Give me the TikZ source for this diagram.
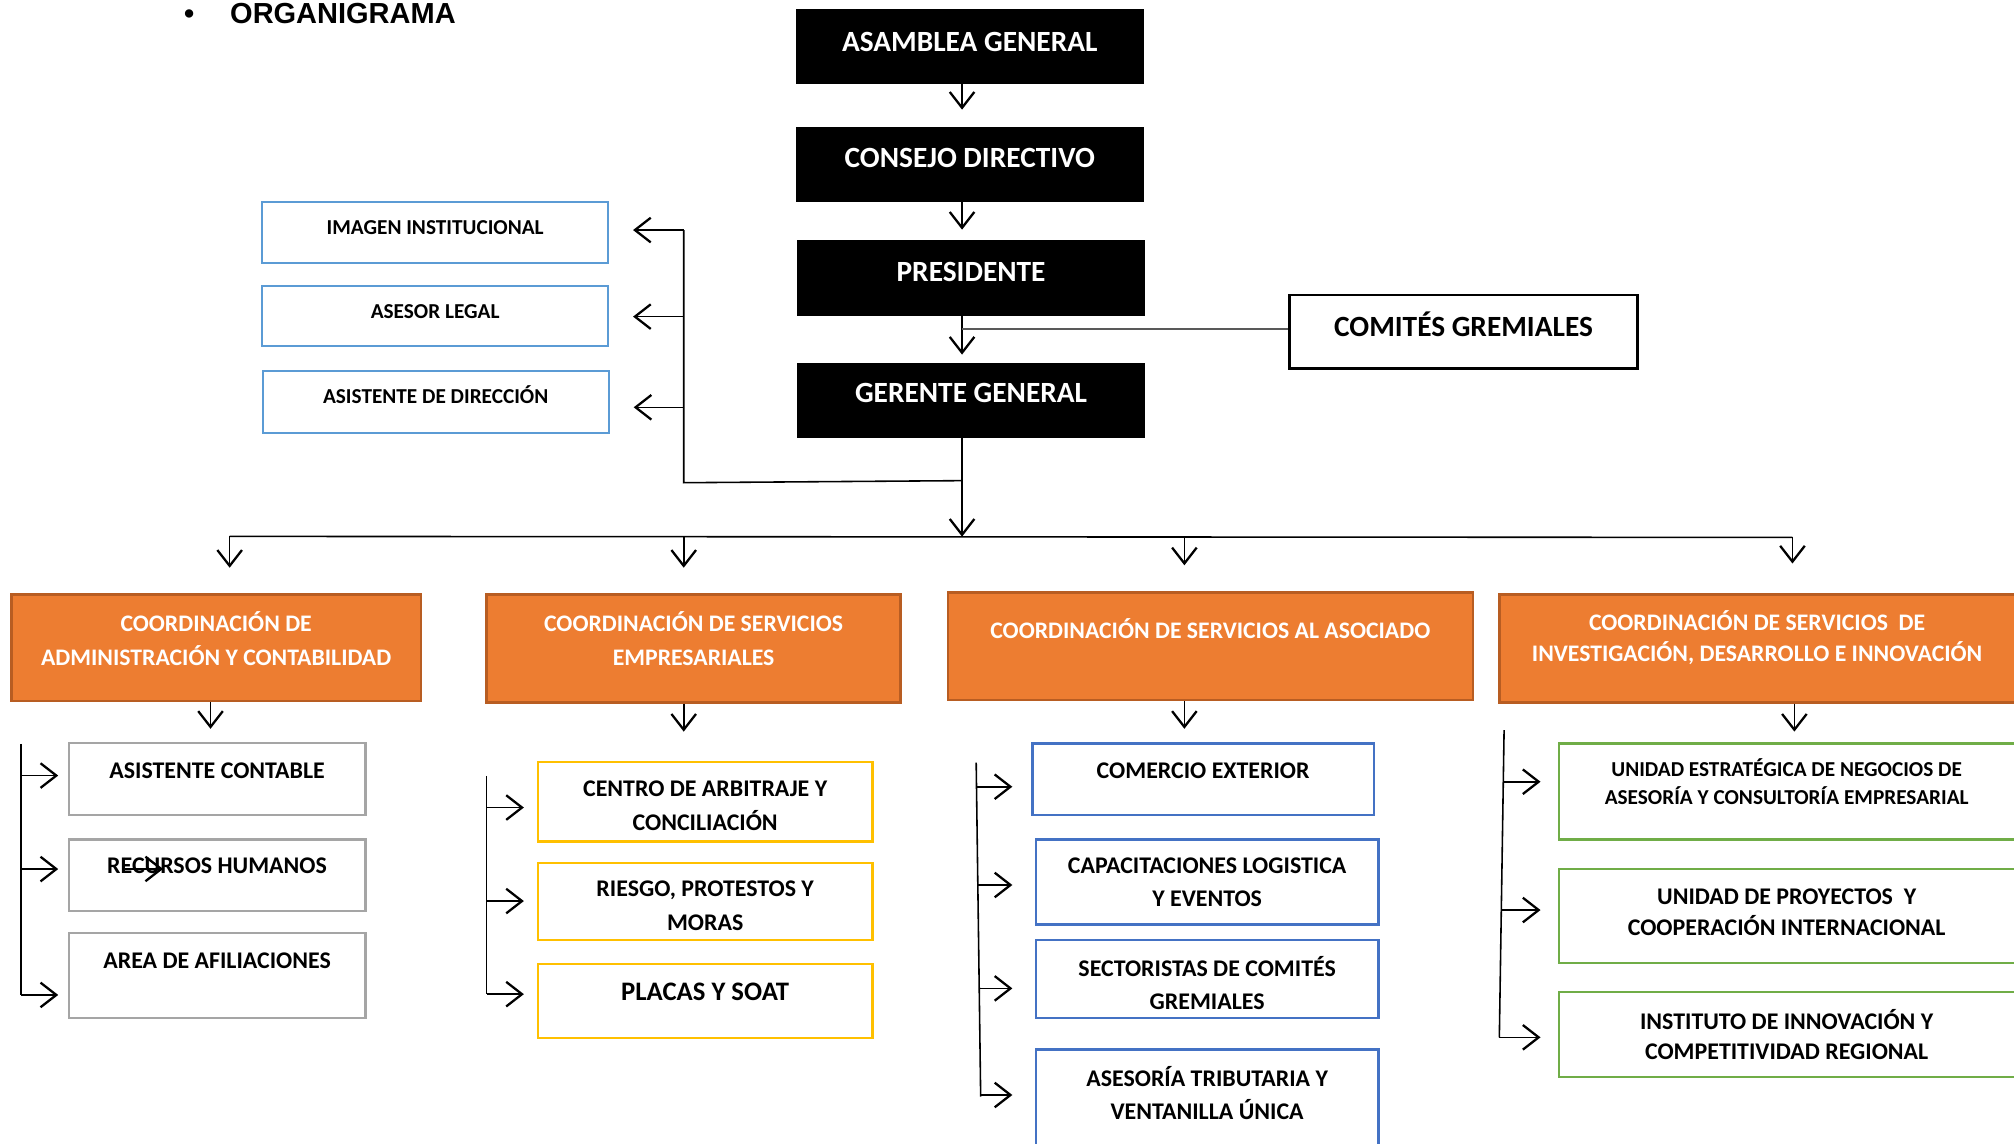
\documentclass[tikz,border=0pt]{standalone}
\usepackage{fontspec}
\setmainfont{Carlito}
\newfontfamily\titlefont{Liberation Sans}
\usetikzlibrary{arrows.meta, fit}

\definecolor{orgorange}{HTML}{ED7D31}
\definecolor{orgorangeline}{HTML}{B85D22}
\definecolor{orglightblue}{HTML}{5B9BD5}
\definecolor{orgblue}{HTML}{4472C4}
\definecolor{orgyellow}{HTML}{FFC000}
\definecolor{orggreen}{HTML}{70AD47}
\definecolor{orggray}{HTML}{A5A5A5}
\definecolor{orgline}{HTML}{595959}

\tikzset{
  headbox/.style={fill=black, draw=black, inner sep=0pt},
  unitbox/.style={draw=#1, line width=1.3pt, inner sep=0pt},
  coordbox/.style={fill=orgorange, draw=orgorangeline, line width=1.5pt, inner sep=0pt},
  oneline/.style={text height=#1, text depth=0pt},
  headtxt/.style={text=white, inner sep=0pt, oneline=10.75pt, font=\bfseries\fontsize{16.7}{20}\selectfont},
  sidetxt/.style={inner sep=0pt, oneline=7.8pt, font=\bfseries\fontsize{12.1}{15}\selectfont},
  coordtxt/.style={text=white, inner sep=0pt, align=center, font=\bfseries\fontsize{13.5}{19.4}\selectfont},
  unittxt/.style={inner sep=0pt, align=center, font=\bfseries\fontsize{13.6}{19.1}\selectfont},
  wire/.style={line width=0.9pt},
  conn/.style={line width=0.9pt, -{Straight Barb[length=9pt, width=14pt, line width=1.3pt]}},
}

\begin{document}
\begin{tikzpicture}[x=0.7309pt, y=-0.7309pt]
\useasboundingbox[fill=white] (0,0) rectangle (1568,890);
\clip (0,0) rectangle (1568,890);

% title
\node[anchor=base west, inner sep=0pt, font=\titlefont\bfseries\fontsize{16.5}{20}\selectfont] (title) at (143,18) {\textbullet\hspace{20.5pt}ORGANIGRAMA};

% top of the chart
\node[headbox, fit={(620,7.3) (890,64.9)}] (asamblea) {};
\node[headbox, fit={(620,98.9) (890,156.5)}] (consejo) {};
\node[headbox, fit={(621,187.4) (891,245.3)}] (presidente) {};
\node[headbox, fit={(621,282.9) (891,340.8)}] (gerente) {};
\node[headtxt] (asamblea-t) at (755,32.4) {ASAMBLEA GENERAL};
\node[headtxt] (consejo-t) at (755,123.3) {CONSEJO DIRECTIVO};
\node[headtxt] (presidente-t) at (756,211.5) {PRESIDENTE};
\node[headtxt] (gerente-t) at (756,306.2) {GERENTE GENERAL};

\node[draw=black, line width=1.6pt, inner sep=0pt, fit={(1004.2,229.7) (1274.6,286.8)}] (comites) {};
\node[headtxt, text=black] (comites-t) at (1139.4,254.3) {COMITÉS GREMIALES};

\coordinate (spine) at (749,0);
\draw[conn, shorten >=9.7pt] (asamblea.south -| spine) -- (consejo.north -| spine);
\draw[conn, shorten >=6.1pt] (consejo.south -| spine) -- (presidente.north -| spine);
\draw[conn, shorten >=4.8pt] (presidente.south -| spine) -- (gerente.north -| spine);
\coordinate (pc) at (749,256.2);
\draw[wire, orgline] (pc) -- (pc -| comites.west);

% staff
\node[unitbox=orglightblue, fit={(204,157) (473.5,204.5)}] (imagen) {};
\node[unitbox=orglightblue, fit={(204,222.4) (473.5,269.4)}] (asesor) {};
\node[unitbox=orglightblue, fit={(204.5,288.9) (474,336.9)}] (asisdir) {};
\node[sidetxt] (imagen-t) at (338.8,177.3) {IMAGEN INSTITUCIONAL};
\node[sidetxt] (asesor-t) at (338.8,242.7) {ASESOR LEGAL};
\node[sidetxt] (asisdir-t) at (339.2,308.9) {ASISTENTE DE DIRECCIÓN};

\coordinate (staffjoin) at (749,374.2);
\coordinate (staffbot) at (532.3,375.8);
\coordinate (staff1) at (532.3,179.1);
\coordinate (staff2) at (532.3,246.5);
\coordinate (staff3) at (532.3,317.1);
\draw[wire] (staffjoin) -- (staffbot) -- (staff1);
\draw[conn, shorten >=13.5pt] (staff1) -- (staff1 -| imagen.east);
\draw[conn, shorten >=13.5pt] (staff2) -- (staff2 -| asesor.east);
\draw[conn, shorten >=13.5pt] (staff3) -- (staff3 -| asisdir.east);

% coordinations
\coordinate (busl) at (178.8,417.6);
\coordinate (busr) at (1395.5,418.4);
\coordinate (busmid) at (749,417.8);
\draw[conn] (gerente.south -| spine) -- (busmid);
\draw[wire] (busl) -- (busr);

\node[coordbox, fit={(8.9,463) (327.7,545.7)}] (cadm) {};
\node[coordbox, fit={(378.9,463) (701.1,546.7)}] (cemp) {};
\node[coordbox, fit={(738,461.1) (1146.7,545)}] (caso) {};
\node[coordbox, fit={(1167.4,463) (1569,546.7)}] (cinv) {};
\node[coordtxt] (cadm-t) at (168.3,497) {COORDINACIÓN DE\\ADMINISTRACIÓN Y CONTABILIDAD};
\node[coordtxt] (cemp-t) at (540,497) {COORDINACIÓN DE SERVICIOS\\EMPRESARIALES};
\node[coordtxt, oneline=8.7pt] (caso-t) at (942.3,491.4) {COORDINACIÓN DE SERVICIOS AL ASOCIADO};
\node[coordtxt, font=\bfseries\fontsize{13.5}{17.5}\selectfont] (cinv-t) at (1368,496.4) {COORDINACIÓN DE SERVICIOS\ \ DE\\INVESTIGACIÓN, DESARROLLO E INNOVACIÓN};

\coordinate (bus2) at (532.3,417.9);
\coordinate (bus3) at (922.1,418.1);
\draw[conn, shorten >=14.6pt] (busl) -- (busl |- cadm.north);
\draw[conn, shorten >=14.6pt] (bus2) -- (bus2 |- cemp.north);
\draw[conn, shorten >=14.6pt] (bus3) -- (bus3 |- caso.north);
\draw[conn, shorten >=17pt] (busr) -- (busr |- cinv.north);

% column heads
\coordinate (c1head) at (163.9,567.4);
\coordinate (c2head) at (532.3,569.6);
\coordinate (c3head) at (922.1,567.4);
\coordinate (c4head) at (1397,569.6);
\draw[conn] (cadm.south -| c1head) -- (c1head);
\draw[conn] (cemp.south -| c2head) -- (c2head);
\draw[conn] (caso.south -| c3head) -- (c3head);
\draw[conn] (cinv.south -| c4head) -- (c4head);

% column 1
\node[unitbox=orggray, fit={(53.6,578.6) (284.5,634.5)}] (asiscont) {};
\node[unitbox=orggray, fit={(53.6,653.6) (284.5,709.1)}] (rrhh) {};
\node[unitbox=orggray, fit={(53.6,726.4) (284.5,792.4)}] (afil) {};
\node[unittxt, oneline=8.75pt] (asiscont-t) at (169,600) {ASISTENTE CONTABLE};
\node[unittxt, oneline=8.75pt] (rrhh-t) at (169,674.3) {RECURSOS HUMANOS};
\node[unittxt, oneline=8.75pt] (afil-t) at (169,748.4) {AREA DE AFILIACIONES};
\coordinate (c1top) at (16.4,579.2);
\coordinate (c1a) at (16.4,603.8);
\coordinate (c1b) at (16.4,676.6);
\coordinate (c1c) at (16.4,774.6);
\draw[wire] (c1top) -- (c1c);
\draw[conn, shorten >=5.4pt] (c1a) -- (c1a -| asiscont.west);
\draw[conn, shorten >=5.4pt] (c1b) -- (c1b -| rrhh.west);
\draw[conn, shorten >=5.4pt] (c1c) -- (c1c -| afil.west);
\coordinate (strayA) at (97,676.5);
\coordinate (strayB) at (127,676.5);
\draw[conn] (strayA) -- (strayB);

% column 2
\node[unitbox=orgyellow, fit={(418.6,593) (679.3,655.2)}] (centro) {};
\node[unitbox=orgyellow, fit={(418.6,671.8) (679.3,731.8)}] (riesgo) {};
\node[unitbox=orgyellow, fit={(418.6,750.3) (679.3,808.1)}] (placas) {};
\node[unittxt] (centro-t) at (549,627.4) {CENTRO DE ARBITRAJE Y\\CONCILIACIÓN};
\node[unittxt] (riesgo-t) at (549,705) {RIESGO, PROTESTOS Y\\MORAS};
\node[unittxt, oneline=9.8pt, font=\bfseries\fontsize{15.2}{19}\selectfont] (placas-t) at (549,772.4) {PLACAS Y SOAT};
\coordinate (c2top) at (378.9,604.1);
\coordinate (c2a) at (378.9,628.7);
\coordinate (c2b) at (378.9,701.5);
\coordinate (c2c) at (378.9,774);
\draw[wire] (c2top) -- (c2c);
\draw[conn, shorten >=7.2pt] (c2a) -- (c2a -| centro.west);
\draw[conn, shorten >=7.2pt] (c2b) -- (c2b -| riesgo.west);
\draw[conn, shorten >=7.2pt] (c2c) -- (c2c -| placas.west);

% column 3
\node[unitbox=orgblue, fit={(803.8,578.9) (1069.7,634.5)}] (comercio) {};
\node[unitbox=orgblue, fit={(806.3,653.6) (1073.2,719.7)}] (capac) {};
\node[unitbox=orgblue, fit={(806.3,731.8) (1073.2,792.4)}] (sector) {};
\node[unitbox=orgblue, fit={(806.3,817) (1073.2,900)}] (asesoria) {};
\node[unittxt, oneline=8.75pt] (comercio-t) at (936.7,600) {COMERCIO EXTERIOR};
\node[unittxt, font=\bfseries\fontsize{13.6}{18.7}\selectfont] (capac-t) at (939.8,687.1) {CAPACITACIONES LOGISTICA\\Y EVENTOS};
\node[unittxt, font=\bfseries\fontsize{13.6}{18.7}\selectfont] (sector-t) at (939.8,765.3) {SECTORISTAS DE COMITÉS\\GREMIALES};
\node[unittxt] (asesoria-t) at (939.8,850.9) {ASESORÍA TRIBUTARIA Y\\VENTANILLA ÚNICA};
\coordinate (c3top) at (760,593.8);
\coordinate (c3a) at (760.3,612.5);
\coordinate (c3b) at (761.3,689);
\coordinate (c3c) at (762.4,769.5);
\coordinate (c3d) at (763.5,852.5);
\draw[wire] (c3top) -- (763.5,853.8);
\draw[conn, shorten >=10.8pt] (c3a) -- (c3a -| comercio.west);
\draw[conn, shorten >=12.6pt] (c3b) -- (c3b -| capac.west);
\draw[conn, shorten >=12.6pt] (c3c) -- (c3c -| sector.west);
\draw[conn, shorten >=12.6pt] (c3d) -- (c3d -| asesoria.west);

% column 4
\node[unitbox=orggreen, fit={(1213.8,578.9) (1580,653.6)}] (uen) {};
\node[unitbox=orggreen, fit={(1213.8,676.6) (1580,750)}] (proyectos) {};
\node[unitbox=orggreen, fit={(1213.8,772.4) (1580,838.7)}] (instituto) {};
\node[unittxt, font=\bfseries\fontsize{12.1}{15.6}\selectfont] (uen-t) at (1391,608.5) {UNIDAD ESTRATÉGICA DE NEGOCIOS DE\\ASESORÍA Y CONSULTORÍA EMPRESARIAL};
\node[unittxt, font=\bfseries\fontsize{13.6}{17.7}\selectfont] (proyectos-t) at (1391,710.1) {UNIDAD DE PROYECTOS\ \ Y\\COOPERACIÓN INTERNACIONAL};
\node[unittxt, font=\bfseries\fontsize{13.6}{17.3}\selectfont] (instituto-t) at (1391,805.4) {INSTITUTO DE INNOVACIÓN Y\\COMPETITIVIDAD REGIONAL};
\coordinate (c4top) at (1171,568.4);
\coordinate (c4a) at (1170.1,608.6);
\coordinate (c4b) at (1168.6,708.5);
\coordinate (c4c) at (1167.3,807.6);
\draw[wire] (c4top) -- (c4c);
\draw[conn, shorten >=9.9pt] (c4a) -- (c4a -| uen.west);
\draw[conn, shorten >=9.9pt] (c4b) -- (c4b -| proyectos.west);
\draw[conn, shorten >=9.9pt] (c4c) -- (c4c -| instituto.west);
\end{tikzpicture}
\end{document}
